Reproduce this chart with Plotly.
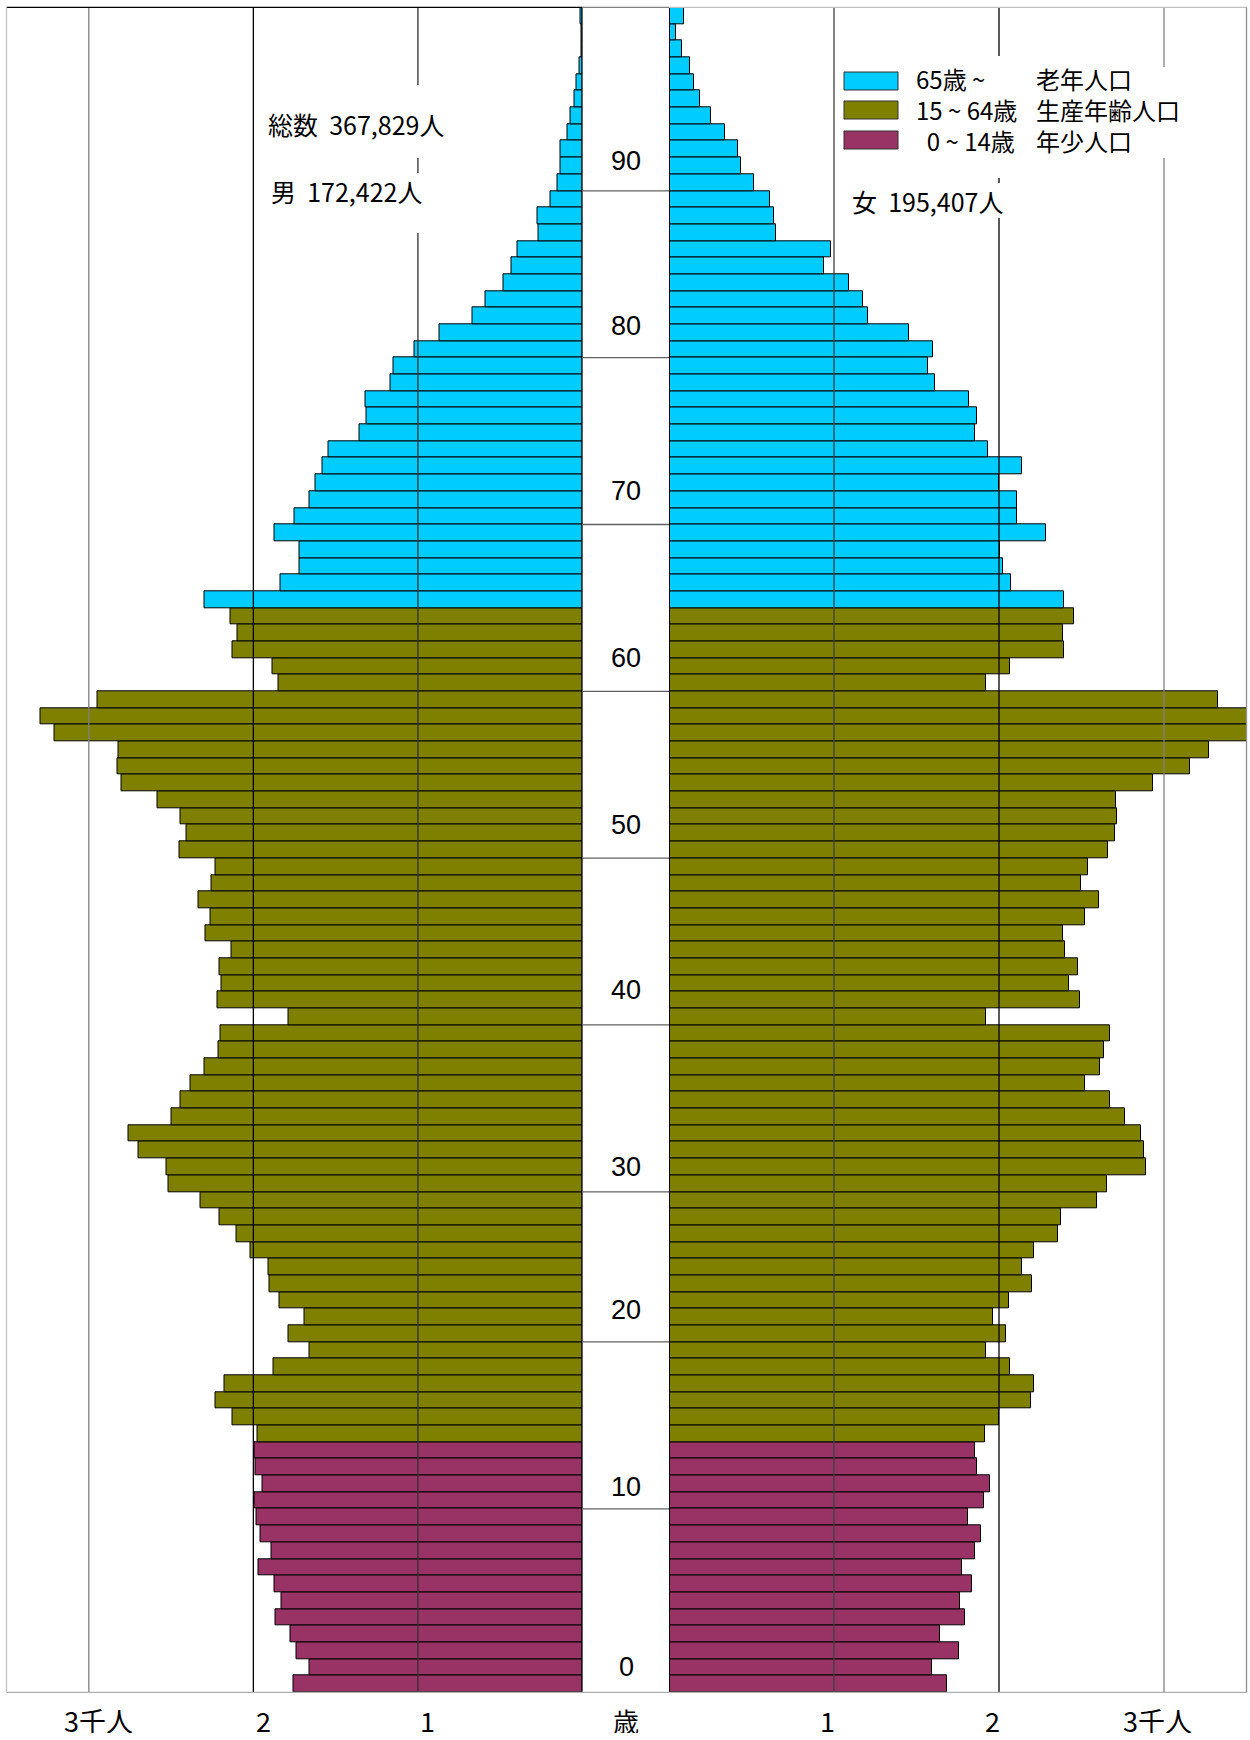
import plotly.graph_objects as go

# ---- data (persons per single year of age) ----
AGES = list(range(0, 101))

MALE = [
    1754, 1656, 1735, 1773, 1864, 1831, 1870, 1966, 1889, 1957,
    1982, 1996, 1943, 1987, 1996, 1973, 2127, 2232, 2178, 1880,
    1656, 1784, 1689, 1843, 1901, 1910, 2015, 2101, 2208, 2320,
    2518, 2525, 2700, 2758, 2495, 2441, 2381, 2294, 2211, 2197,
    1789, 2218, 2192, 2206, 2131, 2290, 2260, 2334, 2255, 2232,
    2448, 2406, 2441, 2583, 2800, 2823, 2819, 3210, 3291, 2949,
    1845, 1884, 2129, 2096, 2138, 2297, 1838, 1719, 1721, 1873,
    1749, 1656, 1621, 1579, 1544, 1358, 1311, 1321, 1169, 1146,
    1018, 871, 666, 587, 482, 433, 398, 266, 275, 196,
    154, 135, 135, 89, 75, 51, 37, 19, 9, 7,
    12,
]

FEMALE = [
    1687, 1596, 1759, 1643, 1796, 1766, 1838, 1777, 1854, 1893,
    1810, 1912, 1947, 1865, 1852, 1916, 2000, 2195, 2213, 2067,
    1923, 2044, 1961, 2058, 2200, 2139, 2213, 2357, 2378, 2596,
    2652, 2889, 2879, 2861, 2766, 2675, 2524, 2615, 2638, 2675,
    1919, 2492, 2422, 2476, 2399, 2387, 2524, 2608, 2497, 2541,
    2659, 2701, 2717, 2712, 2935, 3155, 3271, 3560, 3560, 3329,
    1919, 2065, 2394, 2390, 2452, 2392, 2074, 2023, 2007, 2285,
    2107, 2107, 2000, 2139, 1935, 1852, 1865, 1819, 1613, 1571,
    1601, 1452, 1206, 1176, 1088, 942, 984, 650, 638, 610,
    517, 436, 420, 341, 255, 188, 153, 130, 77, 44,
    90,
]

# age groups: lower bound, colour, legend texts (top to bottom in legend)
GROUP_MIN_AGE = [65, 15, 0]
GROUP_COLORS = ["#00CCFF", "#808000", "#993366"]
GROUP_AGE_TEXT = ["65歳 ~", "15 ~ 64歳", "\u00a0\u00a00 ~ 14歳"]
GROUP_NAME_TEXT = ["老年人口", "生産年齢人口", "年少人口"]

TOTAL_TEXT = "総数  367,829人"
MALE_TEXT = "男  172,422人"
FEMALE_TEXT = "女  195,407人"

AGE_LABELS = [0, 10, 20, 30, 40, 50, 60, 70, 80, 90]
AGE_LABEL_POS = [1.0, 11.8, 22.4, 31.0, 41.6, 51.5, 61.5, 71.5, 81.4, 91.3]
AGE_TICK_EDGES = [11, 21, 30, 40, 50, 60, 70, 80, 90]

X_TICKS = [1, 2, 3]
X_TICK_TEXT = ["1", "2", "3千人"]
X_MAX = 3.5

# ---- layout helpers (pixel -> paper) ----
W, H = 1250, 1740


def px(x):
    return x / W


def py(y):
    return 1 - y / H


L0, L1 = 6.5, 582.5      # left panel
R0, R1 = 669.0, 1246.5   # right panel
T0, B0 = 7.3, 1692.3     # top / bottom of bars
CJK = "Noto Sans CJK JP, Noto Sans, sans-serif"


def group_color(age):
    for lo, c in zip(GROUP_MIN_AGE, GROUP_COLORS):
        if age >= lo:
            return c
    return GROUP_COLORS[-1]


colors = [group_color(a) for a in AGES]

fig = go.Figure()
fig.add_trace(go.Bar(
    y=AGES, x=[v / 1000 for v in MALE], orientation="h",
    marker=dict(color=colors, line=dict(color="#000000", width=1)),
    xaxis="x", yaxis="y", showlegend=False, name="男",
))
fig.add_trace(go.Bar(
    y=AGES, x=[v / 1000 for v in FEMALE], orientation="h",
    marker=dict(color=colors, line=dict(color="#000000", width=1)),
    xaxis="x2", yaxis="y2", showlegend=False, name="女",
))

hidden = dict(showgrid=False, zeroline=False, showticklabels=False,
              showline=False, ticks="", fixedrange=True)

fig.update_layout(
    width=W, height=H,
    margin=dict(l=0, r=0, t=0, b=0),
    paper_bgcolor="white", plot_bgcolor="rgba(0,0,0,0)",
    bargap=0,
    xaxis=dict(domain=[px(L0), px(L1)], range=[X_MAX, 0], anchor="y", **hidden),
    xaxis2=dict(domain=[px(R0), px(R1)], range=[0, X_MAX], anchor="y2", **hidden),
    yaxis=dict(domain=[py(B0), py(T0)], range=[-0.5, 100.5], anchor="x", **hidden),
    yaxis2=dict(domain=[py(B0), py(T0)], range=[-0.5, 100.5], anchor="x2",
                matches="y", **hidden),
)

shapes = []
# vertical grid lines on top of bars
grid_colors = {"x": ["#303030", "#000000", "#808080"],
               "x2": ["#404040", "#000000", "#808080"]}
for ax, ydom in [("x", "y domain"), ("x2", "y2 domain")]:
    for v, c in zip(X_TICKS, grid_colors[ax]):
        shapes.append(dict(type="line", xref=ax, yref=ydom, x0=v, x1=v, y0=0, y1=1,
                           line=dict(color=c, width=1.3), layer="above"))
    shapes.append(dict(type="line", xref=ax, yref=ydom, x0=0, x1=0, y0=0, y1=1,
                       line=dict(color="#000000", width=2), layer="above"))

# frame
frame = [
    (L0, T0, L1, T0, "#000000"), (L1, T0, R0, T0, "#808080"), (R0, T0, R1, T0, "#c0c0c0"),
    (L0, B0, R1, B0, "#b0b0b0"), (L0, T0, L0, B0, "#c0c0c0"), (R1, T0, R1, B0, "#909090"),
]
for x0, y0, x1, y1, c in frame:
    shapes.append(dict(type="line", xref="paper", yref="paper",
                       x0=px(x0), x1=px(x1), y0=py(y0), y1=py(y1),
                       line=dict(color=c, width=1.3), layer="above"))

# age ticks across the centre strip
for e in AGE_TICK_EDGES:
    shapes.append(dict(type="line", xref="paper", yref="y", x0=px(L1), x1=px(R0),
                       y0=e - 0.5, y1=e - 0.5, line=dict(color="#606060", width=1.3),
                       layer="above"))

# white masks where the grid lines are interrupted by text
masks = [
    (405, 85, 432, 158), (405, 173, 432, 233),
    (985, 56, 1012, 178), (1150, 67, 1178, 158), (985, 183, 1012, 218),
]
for x0, y0, x1, y1 in masks:
    shapes.append(dict(type="rect", xref="paper", yref="paper",
                       x0=px(x0), x1=px(x1), y0=py(y0), y1=py(y1),
                       fillcolor="white", line=dict(width=0), layer="above"))

# legend swatches
LEG_Y = [81, 110, 140]
for yc, c in zip(LEG_Y, GROUP_COLORS):
    shapes.append(dict(type="rect", xref="paper", yref="paper",
                       x0=px(844), x1=px(898), y0=py(yc + 9), y1=py(yc - 9),
                       fillcolor=c, line=dict(color="#303030", width=1), layer="above"))

annotations = []
for lab, pos in zip(AGE_LABELS, AGE_LABEL_POS):
    annotations.append(dict(text=str(lab), xref="paper", yref="y", x=px(626), y=pos,
                            showarrow=False, xanchor="center", yanchor="middle",
                            font=dict(family="Liberation Sans, Arial", size=27, color="#000")))

BOTTOM_Y = py(1720)
annotations.append(dict(text="歳", xref="paper", yref="paper", x=px(626), y=BOTTOM_Y,
                        showarrow=False, yanchor="middle", height=26,
                        font=dict(family=CJK, size=26, color="#000")))

for ax, shift in [("x", 10), ("x2", -7)]:
    for v, t in zip(X_TICKS, X_TICK_TEXT):
        annotations.append(dict(text=t, xref=ax, yref="paper", x=v, y=BOTTOM_Y,
                                xshift=shift, showarrow=False, yanchor="middle", height=26,
                                font=dict(family=CJK, size=27, color="#000")))

for t, xc, yc in [(TOTAL_TEXT, 356, 124), (MALE_TEXT, 346, 191), (FEMALE_TEXT, 927, 201)]:
    annotations.append(dict(text=t, xref="paper", yref="paper", x=px(xc), y=py(yc),
                            showarrow=False, xanchor="center", yanchor="middle",
                            font=dict(family=CJK, size=25, color="#000")))

# legend texts: one multi-line block per column
for xa, lines in [(914, GROUP_AGE_TEXT), (1034, GROUP_NAME_TEXT)]:
    annotations.append(dict(text="<br>".join(lines), xref="paper", yref="paper",
                            x=px(xa), y=py(LEG_Y[1]), showarrow=False,
                            xanchor="left", yanchor="middle", align="left",
                            font=dict(family=CJK, size=24, color="#000")))

fig.update_layout(shapes=shapes, annotations=annotations)

fig.write_html("out.html", config={"displayModeBar": False},
               post_script="document.body.style.margin='0';document.body.style.overflow='hidden';")
